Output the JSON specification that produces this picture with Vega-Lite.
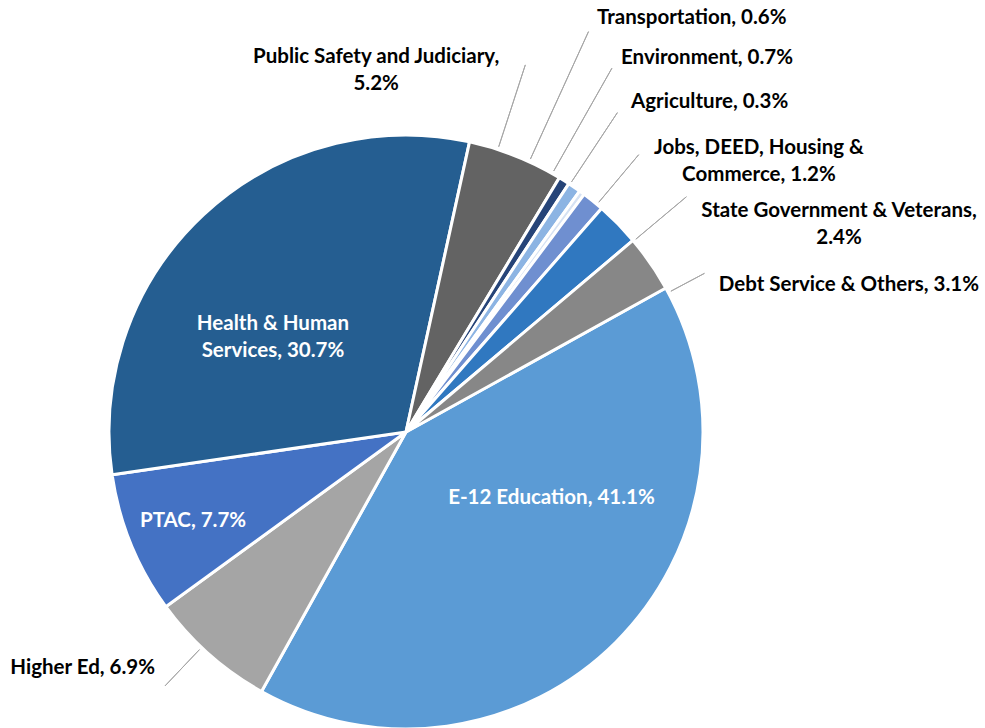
{
  "$schema": "https://vega.github.io/schema/vega-lite/v6.json",
  "width": 812,
  "height": 592,
  "autosize": {"type": "none"},
  "padding": {"left": 0, "top": 136, "right": 173, "bottom": 0},
  "background": "white",
  "view": {"stroke": null},
  "config": {"text": {"font": "Lato", "fontWeight": "bold", "fontSize": 20.5, "lineHeight": 27, "lineBreak": "\n", "baseline": "middle"}},
  "data": {"values": [
    {"order": 1, "name": "E-12 Education", "pct": 41.1, "label": "E-12 Education, 41.1%"},
    {"order": 2, "name": "Higher Ed", "pct": 6.9, "label": "Higher Ed, 6.9%"},
    {"order": 3, "name": "PTAC", "pct": 7.7, "label": "PTAC, 7.7%"},
    {"order": 4, "name": "Health & Human Services", "pct": 30.7, "label": "Health & Human\nServices, 30.7%"},
    {"order": 5, "name": "Public Safety and Judiciary", "pct": 5.2, "label": "Public Safety and Judiciary,\n5.2%"},
    {"order": 6, "name": "Transportation", "pct": 0.6, "label": "Transportation, 0.6%"},
    {"order": 7, "name": "Environment", "pct": 0.7, "label": "Environment, 0.7%"},
    {"order": 8, "name": "Agriculture", "pct": 0.3, "label": "Agriculture, 0.3%"},
    {"order": 9, "name": "Jobs, DEED, Housing & Commerce", "pct": 1.2, "label": "Jobs, DEED, Housing &\nCommerce, 1.2%"},
    {"order": 10, "name": "State Government & Veterans", "pct": 2.4, "label": "State Government & Veterans,\n2.4%"},
    {"order": 11, "name": "Debt Service & Others", "pct": 3.1, "label": "Debt Service & Others, 3.1%"}
  ]},
  "encoding": {
    "theta": {"field": "pct", "type": "quantitative", "stack": true, "scale": {"domain": [0, 99.9], "range": [1.0647, 7.3479]}},
    "order": {"field": "order", "type": "quantitative"},
    "detail": {"field": "name"}
  },
  "layer": [
    {
      "mark": {"type": "arc", "radius": 297, "stroke": "white", "strokeWidth": 3},
      "encoding": {
        "color": {"field": "name", "type": "nominal", "legend": null,
          "scale": {"domain": ["E-12 Education", "Higher Ed", "PTAC", "Health & Human Services", "Public Safety and Judiciary", "Transportation", "Environment", "Agriculture", "Jobs, DEED, Housing & Commerce", "State Government & Veterans", "Debt Service & Others"],
                    "range": ["#5B9BD5", "#A5A5A5", "#4472C4", "#255E91", "#636363", "#264478", "#8CB4E3", "#D6E2F3", "#6F8FD0", "#3078C0", "#878787"]}}
      }
    },
    {"mark": {"type": "arc", "radius": 300, "radius2": 386, "padAngle": 0.9, "thetaOffset": -0.0649, "theta2Offset": -0.0649, "fill": "transparent", "stroke": "#A6A6A6", "strokeWidth": 1},
     "encoding": {"strokeOpacity": {"condition": {"test": "datum.order == 5", "value": 1}, "value": 0}}},
    {"mark": {"type": "arc", "radius": 300, "radius2": 440, "padAngle": 0.9, "thetaOffset": -0.1339, "theta2Offset": -0.1339, "fill": "transparent", "stroke": "#A6A6A6", "strokeWidth": 1},
     "encoding": {"strokeOpacity": {"condition": {"test": "datum.order == 6", "value": 1}, "value": 0}}},
    {"mark": {"type": "arc", "radius": 300, "radius2": 418, "padAngle": 0.9, "thetaOffset": -0.0874, "theta2Offset": -0.0874, "fill": "transparent", "stroke": "#A6A6A6", "strokeWidth": 1},
     "encoding": {"strokeOpacity": {"condition": {"test": "datum.order == 7", "value": 1}, "value": 0}}},
    {"mark": {"type": "arc", "radius": 300, "radius2": 383, "padAngle": 0.9, "thetaOffset": -0.0492, "theta2Offset": -0.0492, "fill": "transparent", "stroke": "#A6A6A6", "strokeWidth": 1},
     "encoding": {"strokeOpacity": {"condition": {"test": "datum.order == 8", "value": 1}, "value": 0}}},
    {"mark": {"type": "arc", "radius": 300, "radius2": 362, "padAngle": 0.9, "thetaOffset": 0.0171, "theta2Offset": 0.0171, "fill": "transparent", "stroke": "#A6A6A6", "strokeWidth": 1},
     "encoding": {"strokeOpacity": {"condition": {"test": "datum.order == 9", "value": 1}, "value": 0}}},
    {"mark": {"type": "arc", "radius": 300, "radius2": 366, "padAngle": 0.9, "thetaOffset": 0.0785, "theta2Offset": 0.0785, "fill": "transparent", "stroke": "#A6A6A6", "strokeWidth": 1},
     "encoding": {"strokeOpacity": {"condition": {"test": "datum.order == 10", "value": 1}, "value": 0}}},
    {"mark": {"type": "arc", "radius": 300, "radius2": 338, "padAngle": 0.9, "thetaOffset": 0.115, "theta2Offset": 0.115, "fill": "transparent", "stroke": "#A6A6A6", "strokeWidth": 1},
     "encoding": {"strokeOpacity": {"condition": {"test": "datum.order == 11", "value": 1}, "value": 0}}},
    {"mark": {"type": "arc", "radius": 300, "radius2": 350, "padAngle": 0.9, "thetaOffset": 0.0342, "theta2Offset": 0.0342, "fill": "transparent", "stroke": "#A6A6A6", "strokeWidth": 1},
     "encoding": {"strokeOpacity": {"condition": {"test": "datum.order == 2", "value": 1}, "value": 0}}},
    {"mark": {"type": "text", "radius": 150, "dx": 39.5, "dy": -40, "align": "center", "color": "white"},
     "encoding": {"text": {"condition": {"test": "datum.order == 1", "field": "label"}, "value": ""}}},
    {"mark": {"type": "text", "radius": 160, "dx": -24, "dy": 9.1, "align": "center", "color": "white"},
     "encoding": {"text": {"condition": {"test": "datum.order == 4", "field": "label"}, "value": ""}}},
    {"mark": {"type": "text", "radius": 231, "dx": 1, "dy": 2, "align": "center", "color": "white"},
     "encoding": {"text": {"condition": {"test": "datum.order == 3", "field": "label"}, "value": ""}}},
    {"mark": {"type": "text", "radius": 343, "dx": -23.5, "dy": -20.7, "align": "right", "color": "black"},
     "encoding": {"text": {"condition": {"test": "datum.order == 2", "field": "label"}, "value": ""}}},
    {"mark": {"type": "text", "radius": 330, "dx": -152, "dy": -68.4, "align": "center", "color": "black"},
     "encoding": {"text": {"condition": {"test": "datum.order == 5", "field": "label"}, "value": ""}}},
    {"mark": {"type": "text", "radius": 450, "dx": -48.6, "dy": -33, "align": "left", "color": "black"},
     "encoding": {"text": {"condition": {"test": "datum.order == 6", "field": "label"}, "value": ""}}},
    {"mark": {"type": "text", "radius": 430, "dx": -28.6, "dy": -20, "align": "left", "color": "black"},
     "encoding": {"text": {"condition": {"test": "datum.order == 7", "field": "label"}, "value": ""}}},
    {"mark": {"type": "text", "radius": 400, "dx": -11.9, "dy": -8, "align": "left", "color": "black"},
     "encoding": {"text": {"condition": {"test": "datum.order == 8", "field": "label"}, "value": ""}}},
    {"mark": {"type": "text", "radius": 430, "dx": 82.2, "dy": 50.5, "align": "center", "color": "black"},
     "encoding": {"text": {"condition": {"test": "datum.order == 9", "field": "label"}, "value": ""}}},
    {"mark": {"type": "text", "radius": 455, "dx": 108.5, "dy": 97.4, "align": "center", "color": "black"},
     "encoding": {"text": {"condition": {"test": "datum.order == 10", "field": "label"}, "value": ""}}},
    {"mark": {"type": "text", "radius": 345, "dx": 289, "dy": 49, "align": "right", "color": "black"},
     "encoding": {"text": {"condition": {"test": "datum.order == 11", "field": "label"}, "value": ""}}}
  ]
}
